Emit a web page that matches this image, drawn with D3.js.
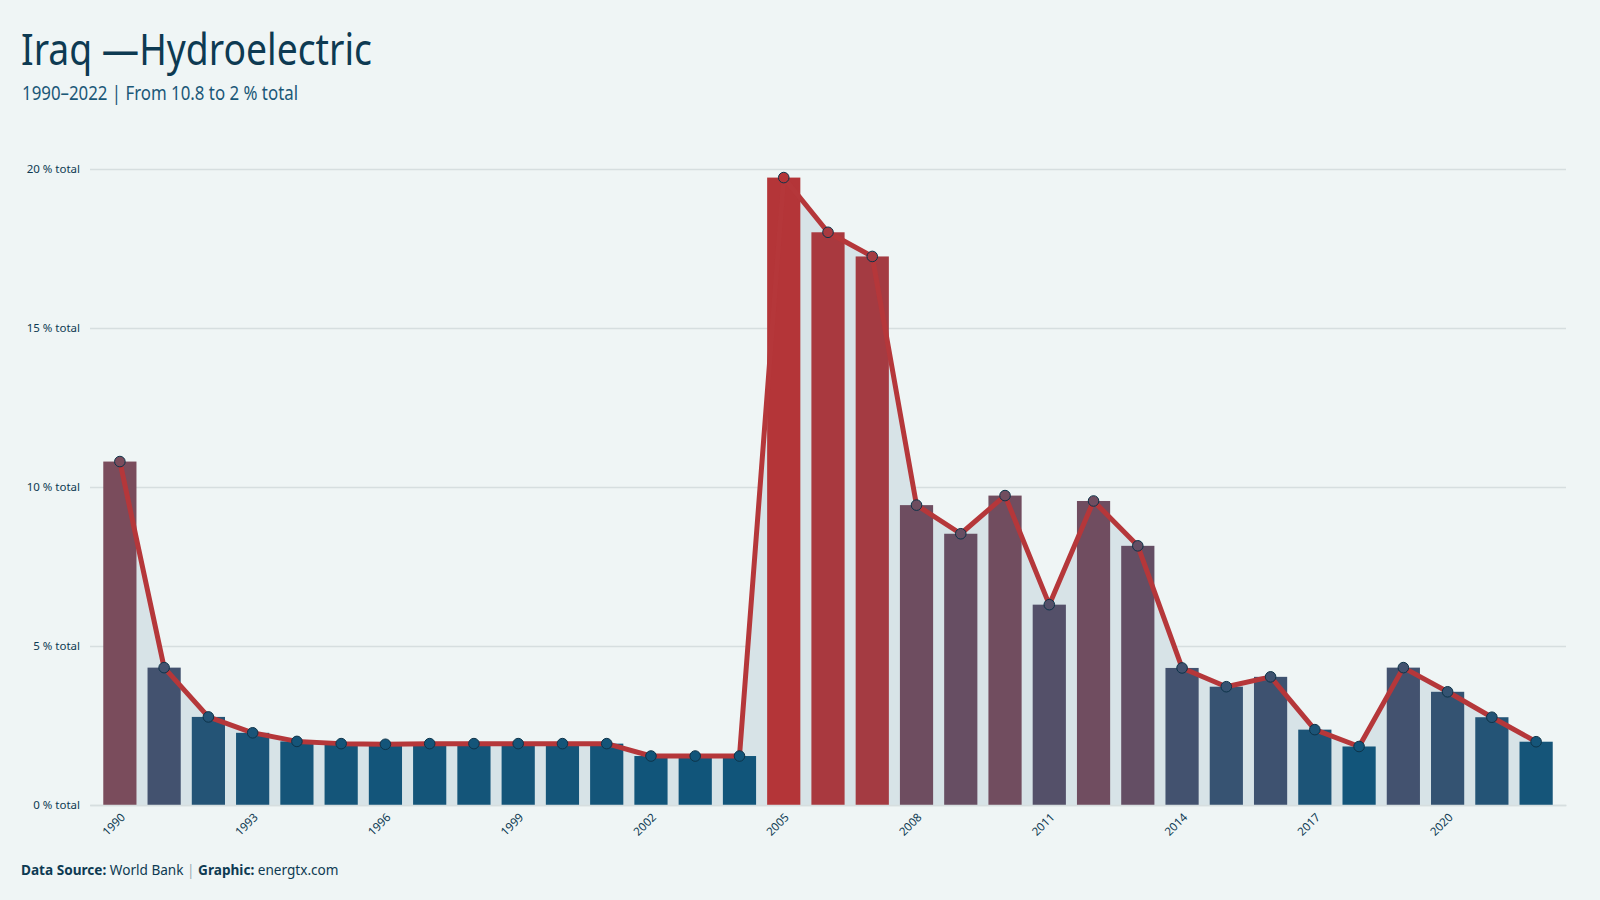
<!DOCTYPE html>
<html>
<head>
<meta charset="utf-8">
<script src="https://cdn.jsdelivr.net/npm/d3@7"></script>
<style>
  html, body { margin: 0; padding: 0; background: #eff5f5; }
  svg { display: block; }
</style>
</head>
<body>
<div id="chart"></div>
<script>
// data
const years = [1990, 1991, 1992, 1993, 1994, 1995, 1996, 1997, 1998, 1999, 2000,
  2001, 2002, 2003, 2004, 2005, 2006, 2007, 2008, 2009, 2010, 2011,
  2012, 2013, 2014, 2015, 2016, 2017, 2018, 2019, 2020, 2021, 2022];
const shares = [10.8, 4.32, 2.77, 2.27, 2.0, 1.93, 1.91, 1.93, 1.93, 1.93, 1.93,
  1.93, 1.54, 1.54, 1.54, 19.73, 18.01, 17.25, 9.43, 8.53, 9.73, 6.3,
  9.56, 8.15, 4.31, 3.72, 4.03, 2.37, 1.84, 4.32, 3.56, 2.76, 1.99];
const yTicks = [0, 5, 10, 15, 20];
const xTickYears = [1990, 1993, 1996, 1999, 2002, 2005, 2008, 2011, 2014, 2017, 2020];

const title = 'Iraq \u2014Hydroelectric';
const subtitle = '1990\u20132022 | From 10.8 to 2 % total';

const width = 1600;
const height = 900;
const padding = { top: 169, bottom: 95, left: 90, right: 34 };
const chartWidth = width - padding.left - padding.right;
const chartHeight = height - padding.top - padding.bottom;

// no condensed face installed, so the header is squeezed with textLength
const headFont = '"Noto Sans", "DejaVu Sans", sans-serif';
const body = '"Noto Sans", "DejaVu Sans", sans-serif';

const data = years.map((year, i) => ({ year, value: shares[i] }));

const x = d3.scaleBand()
  .domain(years)
  .range([0, chartWidth])
  .paddingInner(0.25)
  .paddingOuter(0.3);

const y = d3.scaleLinear()
  .domain([0, 20])
  .range([chartHeight, 0]);

// blue for low shares, red for high
const color = d3.scaleLinear()
  .domain([1.8, 4.3, 10.8, 19.7])
  .range(['#11557a', '#43526f', '#7a4c5c', '#b43538'])
  .clamp(true);

const cx = d => x(d.year) + x.bandwidth() / 2;

const svg = d3.select('#chart').append('svg')
  .attr('width', width)
  .attr('height', height)
  .style('background', '#eff5f5');

// header
svg.append('text')
  .attr('x', 21)
  .attr('y', 65)
  .attr('fill', '#0d3a52')
  .attr('textLength', 351)
  .attr('lengthAdjust', 'spacingAndGlyphs')
  .style('font-family', headFont)
  .style('font-size', '44px')
  .text(title);

svg.append('text')
  .attr('x', 22)
  .attr('y', 100)
  .attr('fill', '#1b5878')
  .attr('textLength', 276)
  .attr('lengthAdjust', 'spacingAndGlyphs')
  .style('font-family', headFont)
  .style('font-size', '20px')
  .text(subtitle);

const chart = svg.append('g')
  .attr('transform', `translate(${padding.left}, ${padding.top})`);

// gridlines + y labels
const grid = chart.append('g')
  .call(d3.axisLeft(y).tickValues(yTicks).tickSize(-chartWidth).tickFormat(d => `${d} % total`).tickPadding(10));
grid.select('.domain').remove();
grid.selectAll('.tick line')
  .attr('stroke', '#d6dedf')
  .attr('stroke-width', 1.5);
grid.selectAll('.tick text')
  .attr('fill', '#0d3a52')
  .style('font-family', body)
  .style('font-size', '11.5px');

// area under the line
chart.append('path')
  .datum(data)
  .attr('fill', '#d7e3e7')
  .attr('d', d3.area().x(cx).y0(chartHeight).y1(d => y(d.value)));

chart.selectAll('.bar')
  .data(data)
  .join('rect')
  .attr('class', 'bar')
  .attr('x', d => x(d.year))
  .attr('width', x.bandwidth())
  .attr('y', d => y(d.value))
  .attr('height', d => chartHeight - y(d.value))
  .attr('fill', d => color(d.value));

// x axis
const xAxis = chart.append('g')
  .attr('transform', `translate(0, ${chartHeight})`)
  .call(d3.axisBottom(x).tickValues(xTickYears).tickSize(0).tickPadding(0));
xAxis.select('.domain')
  .attr('stroke', '#d6dedf')
  .attr('stroke-width', 1.5);
xAxis.selectAll('.tick text')
  .attr('fill', '#0d3a52')
  .style('font-family', body)
  .style('font-size', '11.5px')
  .attr('text-anchor', 'end')
  .attr('dy', 0)
  .attr('transform', 'translate(6, 13) rotate(-45)');

chart.append('path')
  .datum(data)
  .attr('fill', 'none')
  .attr('stroke', '#b5373a')
  .attr('stroke-width', 5)
  .attr('stroke-linejoin', 'round')
  .attr('d', d3.line().x(cx).y(d => y(d.value)));

chart.selectAll('.dot')
  .data(data)
  .join('circle')
  .attr('class', 'dot')
  .attr('cx', cx)
  .attr('cy', d => y(d.value))
  .attr('r', 5.3)
  .attr('fill', d => color(d.value))
  .attr('stroke', '#0d3349')
  .attr('stroke-width', 1);

// footer
const foot = svg.append('text')
  .attr('x', 21)
  .attr('y', 875)
  .attr('fill', '#0d3a52')
  .style('font-family', body)
  .style('font-size', '13.6px');
foot.append('tspan').attr('font-weight', 700).text('Data Source:');
foot.append('tspan').text(' World Bank ');
foot.append('tspan').attr('fill', '#9aabb3').text('|');
foot.append('tspan').attr('font-weight', 700).text(' Graphic:');
foot.append('tspan').text(' energtx.com');
</script>
</body>
</html>
